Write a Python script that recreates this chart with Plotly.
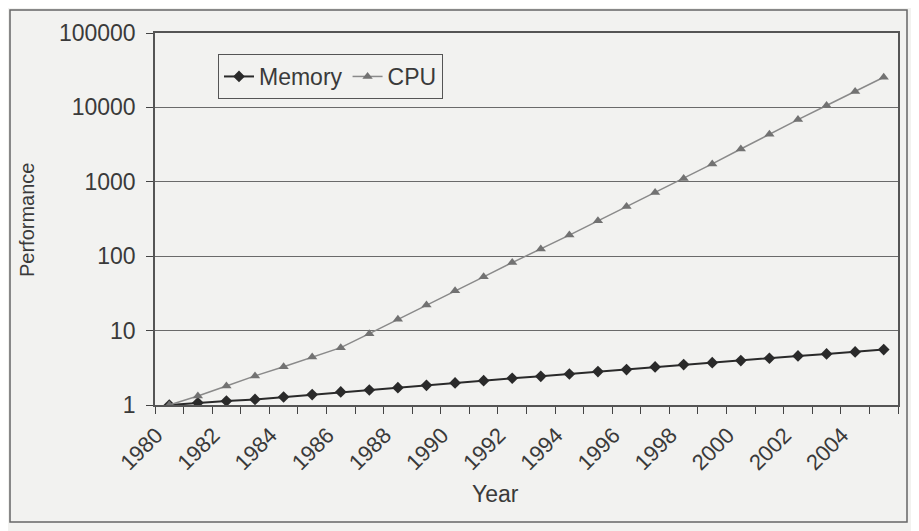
import plotly.graph_objects as go

years = list(range(1980, 2006))
memory = [1.0, 1.07, 1.13, 1.19, 1.28, 1.38, 1.5, 1.59, 1.71, 1.84, 1.98, 2.12, 2.29,
          2.43, 2.61, 2.81, 2.99, 3.25, 3.49, 3.71, 3.95, 4.25, 4.57, 4.86, 5.17, 5.55]
cpu = [1.0, 1.32, 1.8, 2.46, 3.27, 4.43, 5.9, 9.1, 14.2, 22, 34.2, 52.8, 82,
       125, 192, 299, 465, 720, 1110, 1740, 2760, 4360, 6860, 10600, 16300, 25400]
label_years = years[0:25:2]
y_ticks = [1, 10, 100, 1000, 10000, 100000]

FONT = "Liberation Sans, Arial, sans-serif"
BG = "#f2f2f0"
INK = "#3a3a3a"

# the page body adds an 8px offset, so the figure is 8px smaller and margins shifted
PLOT_L, PLOT_T, PLOT_W, PLOT_H = 155, 33, 743, 372


def px_x(px):
    return (px - PLOT_L) / PLOT_W


def px_y(py):
    return (PLOT_T + PLOT_H - py) / PLOT_H


fig = go.Figure()
fig.add_trace(go.Scatter(
    x=years, y=memory, name="Memory", mode="lines+markers",
    line=dict(color="#2a2a2a", width=2),
    marker=dict(symbol="diamond", size=9, color="#2a2a2a"),
))
fig.add_trace(go.Scatter(
    x=years, y=cpu, name="CPU", mode="lines+markers",
    line=dict(color="#8a8a8a", width=1.5),
    marker=dict(symbol="triangle-up", size=9, color="#727272"),
))

fig.update_layout(
    width=911, height=523,
    margin=dict(l=147, r=21, t=25, b=126),
    paper_bgcolor=BG, plot_bgcolor=BG,
    font=dict(family=FONT, size=22, color=INK),
    showlegend=True,
    legend=dict(
        orientation="h", x=px_x(218), y=px_y(54), xanchor="left", yanchor="top",
        bgcolor=BG, bordercolor="#555555", borderwidth=1,
        font=dict(size=23, color=INK),
        itemwidth=30, tracegroupgap=0,
    ),
    xaxis=dict(
        range=[1979.5, 2005.5],
        tickmode="array", tickvals=label_years,
        ticktext=[str(y) for y in label_years],
        tickangle=-45, ticks="",
        ticklabelstandoff=7, ticklabelshift=-13,
        showgrid=False, zeroline=False,
        showline=True, linecolor="#555555", linewidth=1.5, mirror=True,
        tickfont=dict(size=22, color=INK),
        minor=dict(tickmode="array",
                   tickvals=[y - 0.5 for y in years] + [years[-1] + 0.5],
                   ticks="outside", ticklen=7, tickcolor="#444444",
                   showgrid=False),
    ),
    yaxis=dict(
        type="log", range=[0, 5],
        tickmode="array", tickvals=y_ticks,
        ticktext=[str(v) for v in y_ticks],
        ticks="outside", ticklen=7, tickcolor="#444444",
        ticklabelstandoff=6,
        showgrid=True, gridcolor="#6a6a6a", gridwidth=1,
        zeroline=False,
        showline=True, linecolor="#555555", linewidth=1.5, mirror=True,
        tickfont=dict(size=23, color=INK),
    ),
    annotations=[
        dict(text="Year", xref="paper", yref="paper",
             x=px_x(495), y=px_y(494),
             xanchor="center", yanchor="middle", showarrow=False,
             font=dict(size=23, color=INK)),
        dict(text="Performance", xref="paper", yref="paper",
             x=px_x(27), y=px_y(220), textangle=-90,
             xanchor="center", yanchor="middle", showarrow=False,
             font=dict(size=20, color=INK)),
    ],
    shapes=[dict(
        type="rect", xref="paper", yref="paper",
        x0=px_x(10), x1=px_x(907),
        y0=px_y(522), y1=px_y(10),
        line=dict(color="#666666", width=1.5), layer="below",
    )],
)

fig.write_html("out.html")
